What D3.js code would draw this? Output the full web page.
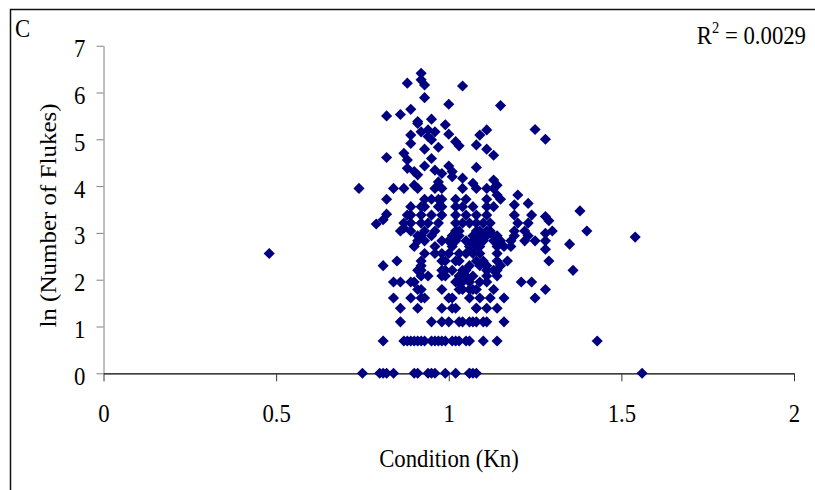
<!DOCTYPE html>
<html>
<head>
<meta charset="utf-8">
<script src="https://cdn.jsdelivr.net/npm/d3@7"></script>
<style>
  body { margin: 0; background: #fff; }
  svg { display: block; }
  text { font-family: "Liberation Serif", "Times New Roman", serif; font-size: 25px; fill: #000; }
</style>
</head>
<body>
<svg width="815" height="490"></svg>
<script>

	// values, one line per band of ln(count)
	var condition = [
		0.75,0.80,0.81,0.82,0.84,0.90,0.91,0.94,0.95,0.96,0.99,1.02,1.06,1.06,1.07,1.08,1.56,
		0.81,0.87,0.88,0.89,0.90,0.91,0.92,0.93,0.95,0.96,0.97,0.98,0.99,1.01,1.02,1.03,1.05,1.06,1.10,1.14,1.43,
		0.86,0.95,0.98,1.00,1.03,1.04,1.06,1.07,1.08,1.10,1.11,1.16,
		0.86,0.91,0.98,1.01,1.02,1.08,1.08,1.11,1.14,
		0.84,0.89,0.92,0.93,1.00,1.01,1.06,1.09,1.12,1.16,1.25,
		0.91,0.92,0.98,1.03,1.04,1.06,1.07,1.08,1.13,1.28,
		0.84,0.86,0.89,0.90,1.02,1.03,1.04,1.06,1.09,1.11,1.21,1.24,
		0.92,0.94,0.98,0.99,1.03,1.05,1.07,1.11,1.14,
		0.91,0.92,0.98,0.99,1.01,1.04,1.05,1.11,1.13,1.14,1.36,
		0.81,0.92,1.06,1.09,1.11,1.15,
		0.85,0.92,0.98,0.99,1.02,1.03,1.08,1.10,1.14,1.17,1.29,
		0.48,0.93,0.96,0.98,1.00,1.03,1.05,1.07,1.09,1.14,
		0.90,0.96,1.01,1.06,1.08,1.09,1.14,1.16,1.18,1.28,1.35,
		0.91,0.93,0.98,1.00,1.02,1.05,1.07,1.09,1.10,1.13,1.15,1.18,1.22,1.25,1.28,
		0.91,0.92,0.95,1.01,1.03,1.07,1.08,1.10,1.11,1.13,1.14,1.19,1.23,1.28,1.54,
		0.86,0.87,0.89,0.93,0.96,1.02,1.03,1.08,1.09,1.11,1.12,1.19,1.22,1.30,1.40,
		0.79,0.81,0.87,0.89,0.92,0.94,0.97,1.02,1.04,1.06,1.08,1.10,1.12,1.20,1.23,1.29,
		0.82,0.88,0.89,0.92,0.95,0.98,1.02,1.05,1.08,1.11,1.19,1.24,1.28,1.38,
		0.89,0.92,0.93,0.97,0.98,1.02,1.04,1.07,1.11,1.13,1.19,1.23,
		0.82,0.93,0.95,0.97,0.98,1.02,1.05,1.11,1.15,1.14,1.20,
		0.74,0.84,0.87,0.91,0.96,0.98,1.04,1.08,1.11,1.13,
		0.90,1.07,1.13,1.14,
		0.97,1.04,1.01,0.91,0.98,0.90,1.01,0.96,0.88,1.08,0.93,1.00,
		0.88,0.95,0.82,1.13,0.87,0.93,1.11,0.97,1.03,1.08,0.89,1.02,0.95,1.28,
		0.94,0.89,1.09,1.00,0.92,0.96,0.94,1.11,1.25,0.99,0.91,0.91,0.95,0.82,0.86,0.89,1.15,1.00,0.93,1.04,0.93,0.88,0.92,0.92
	];

	var lnFlukes = [
		0,0,0,0,0,0,0,0,0,0,0,0,0,0,0,0,0,
		0.69,0.69,0.69,0.69,0.69,0.69,0.69,0.69,0.69,0.69,0.69,0.69,0.69,0.69,0.69,0.69,0.69,0.69,0.69,0.69,0.69,
		1.10,1.10,1.10,1.10,1.10,1.10,1.10,1.10,1.10,1.10,1.10,1.10,
		1.39,1.39,1.39,1.39,1.39,1.39,1.39,1.39,1.39,
		1.61,1.61,1.61,1.61,1.61,1.61,1.61,1.61,1.61,1.61,1.61,
		1.79,1.79,1.79,1.79,1.79,1.79,1.79,1.79,1.79,1.79,
		1.95,1.95,1.95,1.95,1.95,1.95,1.95,1.95,1.95,1.95,1.95,1.95,
		2.08,2.08,2.08,2.08,2.08,2.08,2.08,2.08,2.08,
		2.20,2.20,2.20,2.20,2.20,2.20,2.20,2.20,2.20,2.20,2.20,
		2.30,2.30,2.30,2.30,2.30,2.30,
		2.40,2.40,2.40,2.40,2.40,2.40,2.40,2.40,2.40,2.40,2.40,
		2.56,2.56,2.56,2.56,2.56,2.56,2.56,2.56,2.56,2.56,
		2.71,2.71,2.71,2.71,2.71,2.71,2.71,2.71,2.71,2.65,2.76,
		2.83,2.83,2.83,2.83,2.83,2.83,2.83,2.83,2.83,2.83,2.83,2.83,2.83,2.83,2.83,
		2.94,2.94,2.94,2.94,2.94,2.94,2.94,2.94,2.94,2.94,2.94,2.94,2.94,2.99,2.91,
		3.04,3.10,3.04,3.04,3.04,3.04,3.04,3.04,3.04,3.04,3.04,3.04,3.04,3.04,3.04,
		3.19,3.28,3.21,3.21,3.21,3.21,3.21,3.21,3.21,3.21,3.21,3.21,3.21,3.21,3.21,3.26,
		3.40,3.38,3.38,3.38,3.38,3.38,3.38,3.38,3.38,3.38,3.38,3.38,3.35,3.47,
		3.56,3.56,3.56,3.56,3.56,3.56,3.56,3.56,3.56,3.56,3.60,3.63,
		3.72,3.72,3.72,3.72,3.72,3.72,3.72,3.72,3.72,3.81,3.81,
		3.95,3.95,3.95,3.95,3.95,3.95,3.95,3.95,3.95,3.95,
		4.02,4.06,4.13,4.02,
		4.09,4.17,4.20,4.24,4.27,4.31,4.31,4.34,4.38,4.40,4.43,4.43,
		4.56,4.59,4.61,4.66,4.70,4.79,4.79,4.83,4.86,4.88,4.91,4.95,4.99,5.00,
		5.06,5.09,5.09,5.11,5.16,5.16,5.20,5.20,5.21,5.31,5.34,5.38,5.43,5.50,5.53,5.64,5.72,5.75,5.89,6.14,6.16,6.20,6.27,6.41
	];

	var xTicks = [0, 0.5, 1, 1.5, 2];
	var yTicks = [0, 1, 2, 3, 4, 5, 6, 7];

	var panelLabel = "C";
	var xTitle = "Condition (Kn)";
	var yTitle = "ln (Number of Flukes)";
	var rSquared = "0.0029";

	var svg = d3.select("svg");
	var squeeze = 0.91;   // the source text is a little narrower than Times
	var markColor = "#000080";

	var x = d3.scaleLinear().domain([0, 2]).range([103.5, 794]);
	var y = d3.scaleLinear().domain([0, 7]).range([373.3, 45.7]);

	// outer frame, only top and left edges fall inside the picture
	svg.append("rect")
		.attr("x", 10.5).attr("y", 9.5)
		.attr("width", 830).attr("height", 500)
		.attr("fill", "none")
		.attr("stroke", "#111")
		.attr("stroke-width", 1.5);

	// y axis
	var yAxis = svg.append("g")
		.attr("transform", "translate(103.5,0)")
		.call(d3.axisLeft(y).tickValues(yTicks).tickSize(7).tickSizeOuter(0).tickFormat(d3.format("d")));

	yAxis.select(".domain").attr("stroke", "#808080");
	yAxis.selectAll(".tick line").attr("stroke", "#808080");
	yAxis.selectAll(".tick text")
		.attr("x", 0).attr("dy", 0)
		.attr("transform", "translate(-18,11) scale(" + squeeze + ",1)");

	// x axis sits on y = 0
	var xAxis = svg.append("g")
		.attr("transform", "translate(0," + y(0) + ")")
		.call(d3.axisBottom(x).tickValues(xTicks).tickSize(8).tickSizeOuter(0).tickFormat(function(d){ return String(d); }));

	xAxis.select(".domain").attr("stroke", "#000").attr("stroke-width", 1.3);
	xAxis.selectAll(".tick line").attr("stroke", "#333");
	xAxis.selectAll(".tick text")
		.attr("y", 0).attr("dy", 0)
		.attr("transform", "translate(0,49) scale(" + squeeze + ",1)");

	// diamond markers
	var diamond = d3.symbol().type(d3.symbolSquare).size(62);

	svg.append("g")
		.selectAll("path")
		.data(d3.zip(condition, lnFlukes))
		.enter()
		.append("path")
		.attr("d", diamond)
		.attr("fill", markColor)
		.attr("transform", function(d){ return "translate(" + x(d[0]) + "," + y(d[1]) + ") rotate(45)"; });

	// labels
	svg.append("text")
		.attr("transform", "translate(15,37) scale(" + squeeze + ",1)")
		.text(panelLabel);

	var r2 = svg.append("text")
		.attr("transform", "translate(806,43.5) scale(" + squeeze + ",1)")
		.attr("text-anchor", "end");
	r2.append("tspan").text("R");
	r2.append("tspan").attr("dy", -11).style("font-size", "16px").text("2");
	r2.append("tspan").attr("dy", 11).text(" = " + rSquared);

	svg.append("text")
		.attr("transform", "translate(449,467) scale(" + squeeze + ",1)")
		.attr("text-anchor", "middle")
		.text(xTitle);

	svg.append("text")
		.attr("transform", "translate(56,215.5) rotate(-90) scale(1," + squeeze + ")")
		.attr("text-anchor", "middle")
		.text(yTitle);

</script>
</body>
</html>
